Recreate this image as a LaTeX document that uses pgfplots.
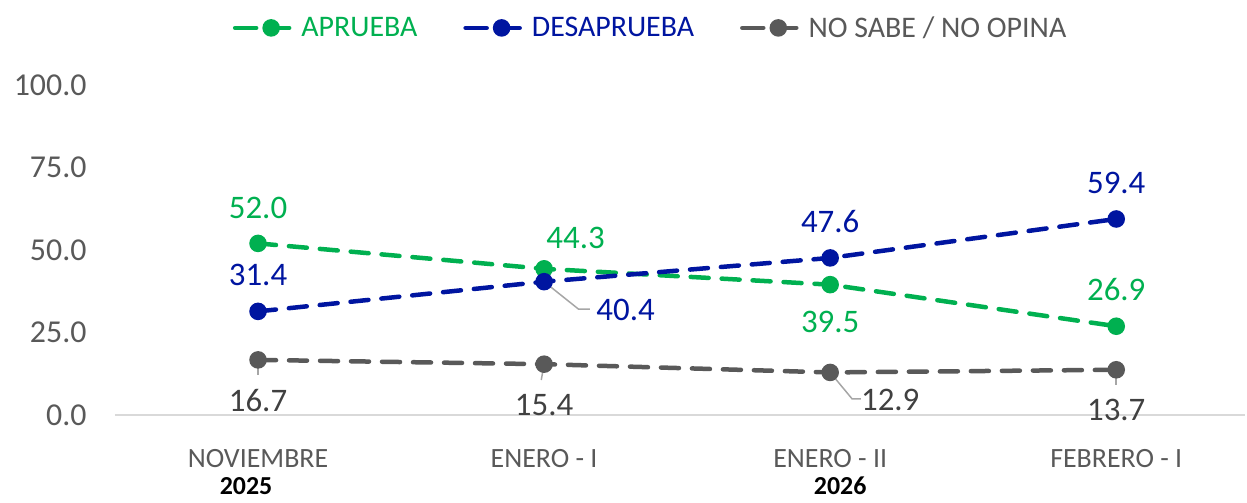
\documentclass[border=0pt]{standalone}
\usepackage{pgfplots}
\pgfplotsset{compat=1.18}
\usepackage{fontspec}
\setmainfont{Carlito}
\definecolor{cgreen}{HTML}{00B050}
\definecolor{cblue}{HTML}{0015A0}
\definecolor{cgray}{HTML}{595959}
\definecolor{ctick}{HTML}{595959}
\definecolor{clab}{HTML}{404040}
\definecolor{cleader}{HTML}{A6A6A6}
\definecolor{caxis}{HTML}{D9D9D9}
\begin{document}
\begin{tikzpicture}
\begin{axis}[
  at={(0,0)}, anchor=south west,
  scale only axis, width=1130bp, height=330bp,
  xmin=-0.5, xmax=3.45, ymin=0, ymax=100,
  clip=false,
  axis x line*=bottom, axis y line*=left,
  x axis line style={draw=caxis, line width=1.5bp, -},
  y axis line style={draw=none},
  major tick length=0pt,
  xtick={0,1,2,3},
  xticklabels={{NOVIEMBRE\\[5bp]{\fontsize{26}{26}\selectfont\color{black}\hspace*{-24bp}\textbf{2025}}},{ENERO - I\\\phantom{0}},{ENERO - II\\[5bp]{\fontsize{26}{26}\selectfont\color{black}\textbf{2026}\hspace*{-20bp}}},{FEBRERO - I\\\phantom{0}}},
  xticklabel style={align=center, font=\fontsize{28}{22}\selectfont, text=ctick, yshift=-31bp, anchor=north},
  ytick={0,25,50,75,100},
  yticklabel style={font=\fontsize{32}{36}\selectfont, text=ctick, xshift=-25bp, /pgf/number format/.cd, fixed, fixed zerofill, precision=1},
  /pgf/number format/assume math mode=true,
  legend columns=3,
  legend style={at={(0.474,1.173)}, anchor=center, draw=none, fill=none,
    font=\fontsize{30}{30}\selectfont, /tikz/every even column/.append style={column sep=44bp},
    /tikz/every odd column/.append style={column sep=4bp}},
  legend image code/.code={\draw[#1, dash pattern=on 21bp off 12bp] (0bp,0bp) -- (58bp,0bp);
     \draw[#1, solid] plot[mark=*] coordinates {(36bp,0bp)};},
  every axis plot/.append style={line width=4.5bp, dash pattern=on 18bp off 13bp, line cap=round, mark=*, mark size=6.5bp, mark options={solid}},
]
\addplot[color=cgreen] coordinates {(0,52.0) (1,44.3) (2,39.5) (3,26.9)};
\addlegendentry{\textcolor{cgreen}{APRUEBA}}
\addplot[color=cblue] coordinates {(0,31.4) (1,40.4) (2,47.6) (3,59.4)};
\addlegendentry{\textcolor{cblue}{DESAPRUEBA}}
\addplot[color=cgray] coordinates {(0,16.7) (1,15.4) (2,12.9) (3,13.7)};
\addlegendentry{\textcolor{cgray}{NO SABE / NO OPINA}}

% leader lines
\draw[cleader, line width=1.5bp] (axis cs:1,40.4) -- (axis cs:1.12,32.1) -- (axis cs:1.16,32.1);
\draw[cleader, line width=1.5bp] (axis cs:2,12.9) -- (axis cs:2.077,4.85) -- (axis cs:2.107,4.85);
\draw[cleader, line width=1.5bp] (axis cs:0,16.7) -- (axis cs:0,12.1);
\draw[cleader, line width=1.5bp] (axis cs:1,15.4) -- (axis cs:0.99,10.6);
\draw[cleader, line width=1.5bp] (axis cs:3,13.7) -- (axis cs:3,9.1);

% data labels
\begin{scope}[every node/.style={font=\fontsize{33}{36}\selectfont}]
\node[text=cgreen] at (axis cs:0,62.7) {52.0};
\node[text=cgreen] at (axis cs:1.11,53.6) {44.3};
\node[text=cgreen] at (axis cs:2,28.2) {39.5};
\node[text=cgreen] at (axis cs:3,37.9) {26.9};
\node[text=cblue] at (axis cs:0,42.4) {31.4};
\node[text=cblue] at (axis cs:1.285,31.8) {40.4};
\node[text=cblue] at (axis cs:2,58.5) {47.6};
\node[text=cblue] at (axis cs:3,70.3) {59.4};
\node[text=clab] at (axis cs:0,4.5) {16.7};
\node[text=clab] at (axis cs:1,3.0) {15.4};
\node[text=clab] at (axis cs:2.21,4.5) {12.9};
\node[text=clab] at (axis cs:3,1.5) {13.7};
\end{scope}
\end{axis}
\pgfresetboundingbox
\path (-115bp,-88bp) rectangle (1132bp,415bp);
\end{tikzpicture}
\end{document}
